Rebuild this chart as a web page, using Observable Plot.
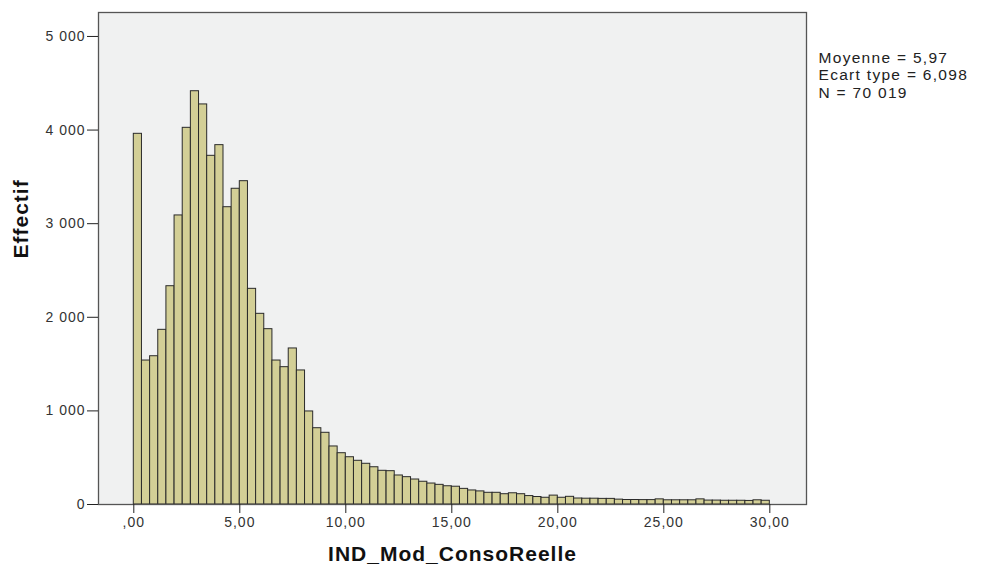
<!DOCTYPE html>
<html>
<head>
<meta charset="utf-8">
<script src="https://cdn.jsdelivr.net/npm/d3@7"></script>
<script src="https://cdn.jsdelivr.net/npm/@observablehq/plot@0.6"></script>
<style>
  html, body { margin: 0; padding: 0; background: #fff; }
  #chart { width: 981px; height: 571px; }
  .stats text { letter-spacing: 1.3px; }
</style>
</head>
<body>
<div id="chart"></div>
<script>
// Histogram counts (Effectif) for 78 equal bins between 0 and 30
const counts = [3960,1538,1584,1866,2332,3088,4024,4415,4274,3725,3839,3176,3373,3454,2304,2037,1873,1538,1467,1667,1432,
  994,815,766,620,548,505,467,435,398,360,356,310,292,267,243,224,210,
  195,190,167,150,140,125,125,110,120,110,90,80,72,95,
  72,82,64,62,62,60,60,52,
  48,48,47,47,55,45,45,45,45,55,
  42,42,40,40,40,38,45,40];
const binMin = 0;
const binMax = 30;
const xTicks = [0, 5, 10, 15, 20, 25, 30];
const xTickLabels = [",00", "5,00", "10,00", "15,00", "20,00", "25,00", "30,00"];
const yTicks = [0, 1000, 2000, 3000, 4000, 5000];
const yTickLabels = ["0", "1 000", "2 000", "3 000", "4 000", "5 000"];
const xTitle = "IND_Mod_ConsoReelle";
const yTitle = "Effectif";
const statsLines = ["Moyenne = 5,97", "Ecart type = 6,098", "N = 70 019"];

const binWidth = (binMax - binMin) / counts.length;
const bins = counts.map((c, i) => ({x1: binMin + i * binWidth, x2: binMin + (i + 1) * binWidth, y: c}));

const chart = Plot.plot({
  width: 981,
  height: 571,
  marginLeft: 98,
  marginRight: 175,
  marginTop: 12,
  marginBottom: 67,
  style: {fontFamily: "'Liberation Sans', Arial, sans-serif", fontSize: "14px", letterSpacing: "1px", background: "#fff", color: "#333"},
  x: {domain: [-1.665, 31.73]},
  y: {domain: [0, 5256]},
  marks: [
    Plot.frame({fill: "#f0f1f1", stroke: "none"}),
    Plot.rectY(bins, {x1: "x1", x2: "x2", y: "y", fill: "#d3cf96", stroke: "#2a2a2a", strokeWidth: 1}),
    Plot.frame({stroke: "#555", strokeWidth: 1.3}),
    Plot.axisX({ticks: xTicks, tickFormat: (d) => xTickLabels[xTicks.indexOf(d)], tickSize: 9, tickPadding: 4, fontSize: 14, label: null, stroke: "#222"}),
    Plot.axisY({ticks: yTicks, tickFormat: (d) => yTickLabels[yTicks.indexOf(d)], tickSize: 11, tickPadding: 2, fontSize: 14, label: null, stroke: "#222"}),
    Plot.text([xTitle], {frameAnchor: "bottom", dy: 56, text: (d) => d, fontSize: 21, fontWeight: "bold", fill: "#111"}),
    Plot.text([yTitle], {frameAnchor: "left", dx: -77, rotate: -90, text: (d) => d, fontSize: 21, fontWeight: "bold", fill: "#111"}),
    Plot.text([statsLines.join("\n")], {frameAnchor: "top-right", dx: 12, dy: 38, textAnchor: "start", lineAnchor: "top", lineHeight: 1.12, text: (d) => d, fontSize: 15.5, fill: "#222", className: "stats"})
  ]
});
document.getElementById("chart").appendChild(chart);
</script>
</body>
</html>
